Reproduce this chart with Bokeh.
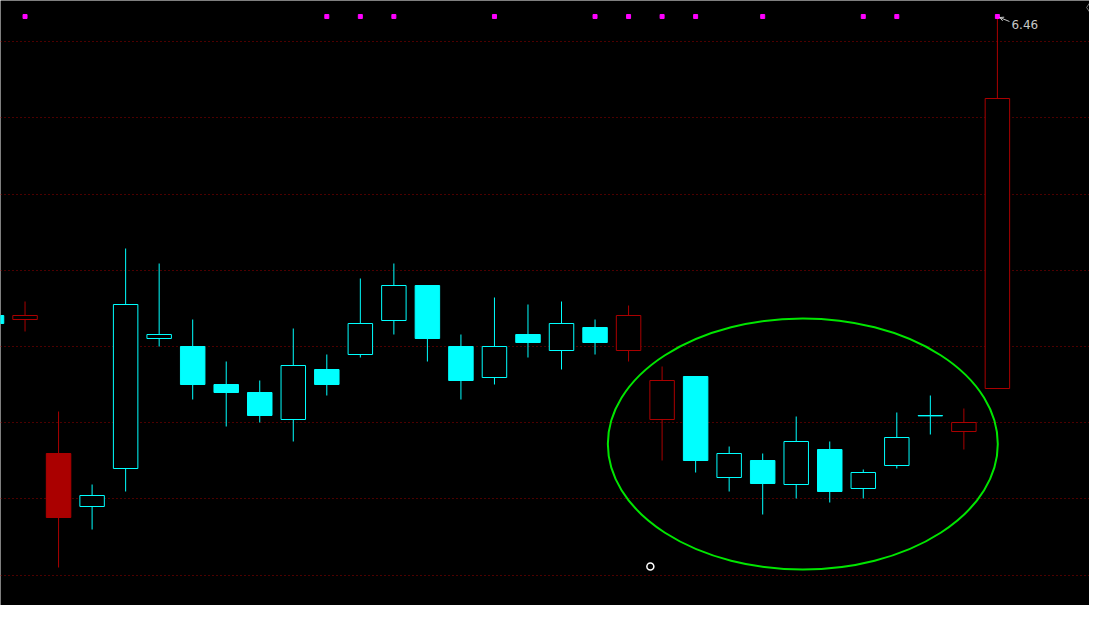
from bokeh.plotting import figure
from bokeh.models import Range1d, FixedTicker, Arrow, OpenHead, ColumnDataSource, Label
from bokeh.embed import file_html
from bokeh.resources import INLINE

# ---- data ----
idx = list(range(31))
opens = [5.7125, 5.7025, 5.3675, 5.235, 5.33, 5.655, 5.635, 5.54, 5.52, 5.4525,
         5.5775, 5.615, 5.70, 5.7875, 5.635, 5.5575, 5.665, 5.625, 5.6825, 5.625,
         5.4525, 5.56, 5.3075, 5.35, 5.29, 5.3775, 5.28, 5.3375, 5.4625, 5.4225, 5.53]
closes = [5.6925, 5.7125, 5.2075, 5.2625, 5.74, 5.665, 5.54, 5.52, 5.4625, 5.5875,
          5.54, 5.6925, 5.7875, 5.655, 5.55, 5.635, 5.645, 5.6925, 5.645, 5.7125,
          5.55, 5.35, 5.3675, 5.2925, 5.3975, 5.2725, 5.32, 5.4075, 5.4615, 5.445, 6.255]
highs = [5.7125, 5.7475, 5.4725, 5.29, 5.88, 5.8425, 5.7025, 5.5975, 5.55, 5.68,
         5.615, 5.805, 5.8425, 5.7875, 5.665, 5.7575, 5.74, 5.7475, 5.7025, 5.7375,
         5.585, 5.56, 5.385, 5.3675, 5.46, 5.3975, 5.3275, 5.47, 5.5125, 5.48, 6.46]
lows = [5.6925, 5.6725, 5.0825, 5.1775, 5.2725, 5.635, 5.5025, 5.435, 5.445, 5.3975,
        5.5125, 5.6075, 5.665, 5.5975, 5.5025, 5.54, 5.6075, 5.5775, 5.615, 5.5975,
        5.35, 5.32, 5.2725, 5.215, 5.255, 5.245, 5.255, 5.33, 5.415, 5.3775, 5.53]
colors = ["cyan", "red", "red", "cyan", "cyan", "cyan", "cyan", "cyan", "cyan", "cyan",
          "cyan", "cyan", "cyan", "cyan", "cyan", "cyan", "cyan", "cyan", "cyan", "red",
          "red", "cyan", "cyan", "cyan", "cyan", "cyan", "cyan", "cyan", "cyan", "red", "red"]
hollow = [False, True, False, True, True, True, False, False, False, True,
          False, True, True, False, False, True, False, True, False, True,
          True, False, True, False, True, False, True, True, True, True, True]
signal_idx = [1, 10, 11, 12, 15, 18, 19, 20, 21, 23, 26, 27, 30]
grid_levels = [6.397, 6.2065, 6.016, 5.8255, 5.635, 5.4445, 5.254, 5.0635]

# ---- style ----
RED = "#AA0000"
CYAN = "#00FFFF"
cmap = {"red": RED, "cyan": CYAN}
line_cols = [cmap[c] for c in colors]
fill_cols = ["#000000" if h else cmap[c] for c, h in zip(colors, hollow)]
tops = [max(o, c) for o, c in zip(opens, closes)]
bots = [min(o, c) for o, c in zip(opens, closes)]

src = ColumnDataSource(dict(x=idx, top=tops, bottom=bots, high=highs, low=lows,
                            lc=line_cols, fc=fill_cols))

p = figure(width=1089, height=605, output_backend="svg", toolbar_location=None,
           x_range=Range1d(0.268, 32.747), y_range=Range1d(4.9875, 6.5),
           background_fill_color="#000000", border_fill_color="#000000",
           min_border=0, outline_line_color=None)
p.xaxis.visible = False
p.yaxis.visible = False
p.xgrid.visible = False
p.ygrid.ticker = FixedTicker(ticks=grid_levels)
p.ygrid.grid_line_color = "#990000"
p.ygrid.grid_line_dash = "1 3"
p.ygrid.grid_line_width = 1

p.segment(x0="x", y0="high", x1="x", y1="low", line_color="lc", line_width=1, source=src)
p.vbar(x="x", top="top", bottom="bottom", width=0.73, fill_color="fc",
       line_color="lc", line_width=1, source=src)

# signal dots along the top
p.scatter(x=signal_idx, y=[max(highs)] * len(signal_idx), marker="square", size=4,
          fill_color="#FF00FF", line_color="#FF00FF")

# highlighted ellipse
p.ellipse(x=24.197, y=5.39125, width=11.63, height=0.6275, fill_color=None,
          line_color="#00E600", line_width=2)

# high label with pointer
hi_i = highs.index(max(highs))
p.add_layout(Arrow(end=OpenHead(size=4, line_color="#C8C8C8", line_width=1),
                   x_start=hi_i + 0.36, y_start=6.4475, x_end=hi_i + 0.07, y_end=6.4575,
                   line_color="#C8C8C8", line_width=1))
p.add_layout(Label(x=hi_i + 0.42, y=6.44, text=f"{max(highs):.2f}", text_color="#C8C8C8",
                   text_font="DejaVu Sans", text_font_size="12px", text_baseline="middle"))

# small markers
p.scatter(x=[32.78], y=[6.4825], marker="diamond", size=12, fill_color=None,
          line_color="#808080", line_width=1)
p.scatter(x=[19.65], y=[5.085], marker="circle", size=7, fill_color=None,
          line_color="#FFFFFF", line_width=1.5)

open("out.html", "w").write(file_html(p, INLINE))
